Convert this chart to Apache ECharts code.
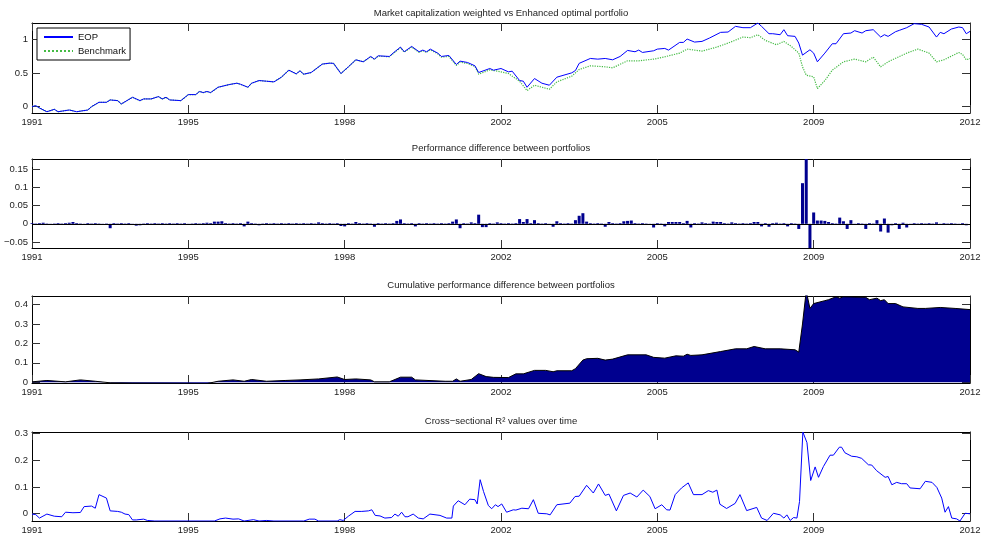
<!DOCTYPE html>
<html>
<head>
<meta charset="utf-8">
<script src="https://cdn.jsdelivr.net/npm/echarts@6/dist/echarts.min.js"></script>
<style>
html,body{margin:0;padding:0;background:#fff;}
#chart{width:982px;height:535px;}
</style>
</head>
<body>
<div id="chart"></div>
<script>
// ---------- DATA (x = months since start of 1991) ----------
const xTickLabels = ['1991','1995','1998','2002','2005','2009','2012'];

const eopMonths = [0,1,2,4,6,7,10,12,15,16,18,20,21,23,24,27,29,30,32,34,35,36,37,40,42,44,45,46,47,48,50,53,55,56,58,59,61,63,65,67,69,71,72,73,75,78,80,81,83,84,85,87,89,91,92,93,96,97,99,100,102,104,105,106,107,109,110,112,114,115,117,119,120,123,124,126,128,129,131,132,133,135,137,139,141,145,146,147,150,152,154,156,158,160,162,163,164,167,168,170,171,174,175,176,178,180,182,185,187,189,191,193,195,196,198,199,201,202,203,205,206,207,209,210,211,213,215,216,218,220,221,223,224,226,228,229,230,232,233,235,237,239,241,243,244,245,247,249,250,251,252];
const eopValues = [0.0,0.015,-0.02,-0.076,-0.04,-0.076,-0.05,-0.076,-0.05,0.0,0.065,0.065,0.10,0.09,0.04,0.14,0.09,0.115,0.115,0.15,0.115,0.14,0.10,0.09,0.18,0.18,0.227,0.21,0.227,0.21,0.29,0.33,0.35,0.335,0.29,0.35,0.39,0.38,0.37,0.44,0.545,0.49,0.535,0.485,0.51,0.636,0.65,0.647,0.495,0.545,0.595,0.70,0.67,0.75,0.71,0.76,0.75,0.80,0.89,0.82,0.90,0.82,0.845,0.82,0.86,0.80,0.75,0.765,0.63,0.68,0.66,0.61,0.51,0.57,0.545,0.57,0.52,0.53,0.39,0.38,0.29,0.42,0.35,0.32,0.44,0.505,0.54,0.647,0.72,0.71,0.72,0.70,0.75,0.84,0.82,0.845,0.81,0.835,0.86,0.87,0.845,0.96,0.96,1.01,0.965,0.975,1.025,1.11,1.115,1.20,1.18,1.18,1.25,1.20,1.09,1.09,1.075,1.15,1.06,1.05,0.95,0.77,0.85,0.80,0.67,0.80,0.94,0.94,1.09,1.10,1.135,1.10,1.135,1.15,1.04,1.075,1.05,1.12,1.14,1.18,1.24,1.23,1.19,1.04,1.11,1.09,1.16,1.19,1.18,1.09,1.125];

// benchmark coincides with EOP until 2001, then runs below it
const benchMonths = [0,1,2,4,6,7,10,12,15,16,18,20,21,23,24,27,29,30,32,34,35,36,37,40,42,44,45,46,47,48,50,53,55,56,58,59,61,63,65,67,69,71,72,73,75,78,80,81,83,84,85,87,89,91,92,93,96,97,99,100,102,104,105,106,107,109,110,112,114,115,117,119,120,123,126,128,131,133,135,137,139,141,145,147,150,154,156,160,163,167,170,174,176,180,184,187,191,193,195,197,200,202,204,206,207,208,210,211,213,215,218,221,224,226,228,230,235,238,241,243,245,249,250,251,252];
const benchValues = [0.0,0.015,-0.02,-0.076,-0.04,-0.076,-0.05,-0.076,-0.05,0.0,0.065,0.065,0.10,0.09,0.04,0.14,0.09,0.115,0.115,0.15,0.115,0.14,0.10,0.09,0.18,0.18,0.227,0.21,0.227,0.21,0.29,0.33,0.35,0.335,0.29,0.35,0.39,0.38,0.37,0.44,0.545,0.49,0.535,0.485,0.51,0.636,0.65,0.647,0.495,0.545,0.595,0.70,0.67,0.745,0.705,0.755,0.745,0.79,0.88,0.815,0.89,0.81,0.835,0.81,0.85,0.79,0.74,0.75,0.615,0.665,0.645,0.60,0.485,0.55,0.52,0.495,0.38,0.24,0.32,0.29,0.26,0.37,0.455,0.555,0.61,0.595,0.58,0.685,0.685,0.71,0.745,0.80,0.86,0.83,0.89,0.95,1.04,1.03,1.075,0.99,0.925,0.975,0.90,0.80,0.595,0.47,0.445,0.27,0.39,0.545,0.67,0.71,0.67,0.74,0.595,0.67,0.80,0.86,0.80,0.67,0.70,0.81,0.78,0.70,0.72];

// monthly performance difference, months 0..251 (one row per year)
const diffValues = [
 0.002,0.001,0.002,0.003,0.001,-0.001,0.001,0.002,0.001,0.002,0.003,0.005,
 0.002,0.001,-0.001,0.002,0.001,0.002,0.001,-0.002,0.001,-0.012,0.002,0.001,
 0.002,0.001,0.002,-0.002,-0.005,-0.004,0.001,0.002,0.001,0.002,0.001,0.002,
 0.001,0.002,0.001,0.002,0.001,0.002,-0.001,0.001,0.002,0.001,0.002,0.003,
 0.002,0.006,0.006,0.007,0.002,0.001,0.002,0.001,0.002,-0.007,0.006,0.002,
 0.001,-0.004,0.001,0.002,0.001,0.002,0.001,0.002,0.001,0.002,0.001,0.002,
 0.001,0.002,0.001,0.002,0.001,0.004,0.002,0.001,0.002,0.001,0.002,-0.006,
 -0.007,0.002,0.001,0.005,0.002,0.001,0.002,0.001,-0.008,0.002,0.001,0.002,
 0.001,0.002,0.008,0.012,0.002,0.001,0.002,-0.007,0.002,0.001,0.002,0.001,
 0.002,0.001,0.002,0.001,0.002,0.006,0.012,-0.012,0.002,0.001,0.004,0.002,
 0.025,-0.009,-0.009,0.002,0.001,0.004,0.002,0.001,0.002,0.001,0.002,0.013,
 0.005,0.013,0.002,0.010,0.002,0.001,0.002,-0.003,-0.008,0.007,0.002,0.001,
 0.002,0.001,0.010,0.022,0.029,0.006,0.002,0.001,0.002,0.001,-0.008,0.005,
 0.002,0.001,0.002,0.007,0.008,0.009,0.002,0.001,0.002,0.001,-0.002,-0.010,
 0.002,0.001,-0.007,0.005,0.005,0.005,0.005,0.002,0.008,-0.010,0.002,0.001,
 0.004,0.002,0.001,0.006,0.005,0.005,0.002,0.001,0.004,0.002,0.001,0.002,
 0.001,0.002,0.005,0.005,-0.007,0.002,-0.008,0.002,0.003,0.001,0.002,-0.007,
 0.002,0.001,-0.014,0.111,0.200,-0.090,0.031,0.009,0.009,0.008,0.005,0.002,
 0.001,0.017,0.007,-0.014,0.010,-0.003,0.002,0.001,-0.014,0.002,0.001,0.010,
 -0.021,0.0145,-0.024,-0.004,0.002,-0.014,0.003,-0.010,-0.003,0.002,0.001,0.002,
 0.001,0.002,0.001,0.004,-0.003,0.002,0.001,0.002,0.001,-0.002,0.002,-0.004
];

const cumMonths = [0,4,9,13,17,21,27,40,47,50,54,57,59,63,68,72,77,82,84,87,91,92,96,99,102,103,111,113,114,115,118,120,122,124,128,130,132,135,138,140,141,145,146,148,149,152,154,156,160,165,167,170,173,175,176,177,180,185,189,192,194,197,201,205,206,207,208,209,210,213,214,216,217,218,224,225,227,228,229,230,232,234,238,240,244,248,252];
const cumValues = [0.002,0.009,0.002,0.012,0.005,-0.003,-0.005,-0.006,-0.007,0.005,0.012,0.005,0.014,0.005,0.009,0.012,0.017,0.027,0.014,0.017,0.012,0.002,0.002,0.026,0.026,0.012,0.005,0.005,0.017,0.005,0.014,0.044,0.029,0.025,0.024,0.043,0.043,0.061,0.061,0.054,0.059,0.059,0.070,0.114,0.121,0.123,0.114,0.119,0.141,0.141,0.128,0.124,0.136,0.134,0.144,0.138,0.141,0.158,0.172,0.172,0.184,0.172,0.172,0.167,0.155,0.30,0.47,0.38,0.405,0.42,0.425,0.44,0.433,0.44,0.437,0.425,0.433,0.42,0.425,0.405,0.405,0.388,0.38,0.38,0.385,0.38,0.374];

const r2Months = [0,1,2,4,6,8,9,11,13,14,16,17,18,20,21,23,24,25,26,27,28,30,31,33,49,50.5,52,54,55.5,57,59.5,61,63,65,73,74.5,76,77,82,82.7,83.6,85,86.8,88.6,90.4,91.3,92.2,93.5,94.8,96.6,97.5,98.4,99.3,100.2,101,102.4,103.8,105.1,106.9,109.6,111.4,112.8,113.2,114.5,116.3,117.6,119,119.6,120.4,121.3,122.6,123.5,124.5,125.2,126.2,127.5,129.3,130,131.6,133.4,134.7,136,138.3,139.2,141,144.5,145.9,147,149,150.8,152.2,154,155,157,158.9,160.7,162.5,164.2,166,167.4,169.2,170.5,171.4,172.8,174.5,176.3,177.7,180,181.7,182.9,184,184.8,186.6,188.9,190.2,190.7,192,194.7,196,197.5,199.2,201,202,202.8,203.7,204.6,205.5,206.2,207.1,208.2,209.2,210.4,211.3,212.6,214.4,215.3,216.9,217.5,218.4,220.2,221.6,222.9,224.7,225.6,226.9,229.2,230,231,232.3,233.6,235,235.9,238.6,240,241.8,243.1,244.4,245.3,246.2,247.1,248.4,249.3,250.7,252];
const r2Values = [-0.002,-0.004,-0.017,-0.002,-0.010,-0.012,0.005,0.003,0.004,0.026,0.028,0.020,0.071,0.058,0.010,0.008,0.005,-0.002,-0.004,-0.024,-0.024,-0.021,-0.026,-0.028,-0.028,-0.020,-0.017,-0.021,-0.020,-0.028,-0.023,-0.028,-0.026,-0.028,-0.028,-0.021,-0.021,-0.028,-0.028,-0.023,-0.026,-0.010,0.008,0.008,0.010,0.014,-0.007,-0.009,-0.017,-0.015,-0.002,-0.010,0.005,-0.012,-0.012,-0.002,-0.017,-0.020,-0.002,-0.007,-0.017,-0.017,0.028,0.048,0.033,0.054,0.052,0.036,0.127,0.083,0.030,0.018,0.033,0.026,0.036,0.005,0.014,0.013,0.020,0.018,0.052,0.001,-0.001,-0.005,0.033,0.039,0.064,0.065,0.106,0.077,0.111,0.068,0.073,0.010,0.068,0.077,0.062,0.088,0.064,0.018,0.033,0.014,0.013,0.071,0.096,0.115,0.071,0.071,0.086,0.080,0.088,0.035,0.019,0.038,0.071,0.071,0.011,0.023,-0.017,-0.026,0.001,-0.005,-0.017,-0.005,-0.026,-0.015,-0.017,0.045,0.306,0.266,0.124,0.175,0.136,0.176,0.219,0.219,0.249,0.249,0.228,0.215,0.213,0.207,0.183,0.182,0.161,0.136,0.139,0.108,0.117,0.112,0.112,0.096,0.093,0.121,0.117,0.098,0.058,0.005,0.026,-0.017,-0.020,-0.028,0.001,-0.001];

const yTicks1 = [0, 0.5, 1];
const yTicks2 = [-0.05, 0, 0.05, 0.1, 0.15];
const yTicks3 = [0, 0.1, 0.2, 0.3, 0.4];
const yTicks4 = [0, 0.1, 0.2, 0.3];

// ---------- CHART ----------
const FONT = '"Liberation Sans", Arial, Helvetica, sans-serif';
const pairs = (xs, ys) => xs.map((x, i) => [x, ys[i]]);
const fmtNum = v => String(v).replace('-', '\u2212');

const grids = [
  {left: 32, right: 12, top: 23, height: 90},
  {left: 32, right: 12, top: 159, height: 89},
  {left: 32, right: 12, top: 296, height: 87},
  {left: 32, right: 12, top: 432, height: 89}
].map(g => Object.assign({show: false, containLabel: false, outerBoundsMode: 'none'}, g));

const yRanges = [[-0.095, 1.25, yTicks1], [-0.066, 0.177, yTicks2], [-0.004, 0.444, yTicks3], [-0.028, 0.306, yTicks4]];

const xAxes = [], yAxes = [];
for (let i = 0; i < 4; i++) {
  ['bottom', 'top'].forEach(pos => {
    xAxes.push({
      type: 'value', gridIndex: i, position: pos, min: 0, max: 252, interval: 42,
      axisLine: {show: true, onZero: false, lineStyle: {color: '#000', width: 1}},
      axisTick: {show: true, inside: true, length: 8, lineStyle: {color: '#333', width: 1}},
      axisLabel: {show: pos === 'bottom', margin: 4, fontSize: 9.5, color: '#222', fontFamily: FONT,
        formatter: v => xTickLabels[Math.round(v / 42)] || ''},
      splitLine: {show: false}
    });
  });
  const [mn, mx, ticks] = yRanges[i];
  ['left', 'right'].forEach(pos => {
    yAxes.push({
      type: 'value', gridIndex: i, position: pos, min: mn, max: mx,
      axisLine: {show: true, onZero: false, lineStyle: {color: '#000', width: 1}},
      axisTick: {show: true, inside: true, length: 8, customValues: ticks, lineStyle: {color: '#333', width: 1}},
      axisLabel: {show: pos === 'left', margin: 4, fontSize: 9.5, color: '#222', fontFamily: FONT,
        customValues: ticks, formatter: fmtNum},
      splitLine: {show: false}
    });
  });
}

const titleStyle = {fontSize: 9.5, fontWeight: 'normal', color: '#222', fontFamily: FONT};
const titles = [
  ['Market capitalization weighted vs Enhanced optimal portfolio', 8],
  ['Performance difference between portfolios', 143],
  ['Cumulative performance difference between portfolios', 280],
  ['Cross\u2212sectional R\u00B2 values over time', 416]
].map(([t, top]) => ({text: t, left: 501, top: top, textAlign: 'center', padding: 0, textStyle: titleStyle}));

const option = {
  animation: false,
  backgroundColor: '#fff',
  title: titles,
  grid: grids,
  xAxis: xAxes,
  yAxis: yAxes,
  legend: {
    data: ['EOP', 'Benchmark'],
    orient: 'vertical', left: 37, top: 28,
    backgroundColor: '#fff', borderColor: '#000', borderWidth: 1, borderRadius: 0,
    padding: [4, 4, 4, 6], itemGap: 4, itemWidth: 29, itemHeight: 10,
    itemStyle: {opacity: 0},
    textStyle: {fontSize: 9.5, color: '#111', fontFamily: FONT}
  },
  series: [
    {name: 'EOP', type: 'line', xAxisIndex: 0, yAxisIndex: 0, z: 3,
     data: pairs(eopMonths, eopValues), symbol: 'none', showSymbol: false,
     lineStyle: {color: '#0000ff', width: 1}, itemStyle: {color: '#0000ff'}},
    {name: 'Benchmark', type: 'line', xAxisIndex: 0, yAxisIndex: 0, z: 2,
     data: pairs(benchMonths, benchValues), symbol: 'none', showSymbol: false,
     lineStyle: {color: '#44bb44', width: 1.2, type: 'dotted'}, itemStyle: {color: '#44bb44'}},
    {name: 'diff', type: 'bar', xAxisIndex: 2, yAxisIndex: 2,
     data: diffValues.map((v, i) => [i, v]), barWidth: 3, clip: true,
     itemStyle: {color: '#00008f'},
     markLine: {silent: true, symbol: 'none', label: {show: false},
       lineStyle: {color: '#000', width: 1, type: 'solid'}, data: [{yAxis: 0}]}},
    {name: 'cum', type: 'line', xAxisIndex: 4, yAxisIndex: 4,
     data: pairs(cumMonths, cumValues), symbol: 'none', showSymbol: false, clip: true,
     lineStyle: {color: '#000', width: 1}, areaStyle: {color: '#00008f', opacity: 1, origin: 0}},
    {name: 'r2', type: 'line', xAxisIndex: 6, yAxisIndex: 6,
     data: pairs(r2Months, r2Values), symbol: 'none', showSymbol: false, clip: true,
     lineStyle: {color: '#0000ff', width: 1}}
  ]
};

const chart = echarts.init(document.getElementById('chart'), null, {renderer: 'canvas'});
chart.setOption(option);
</script>
</body>
</html>
